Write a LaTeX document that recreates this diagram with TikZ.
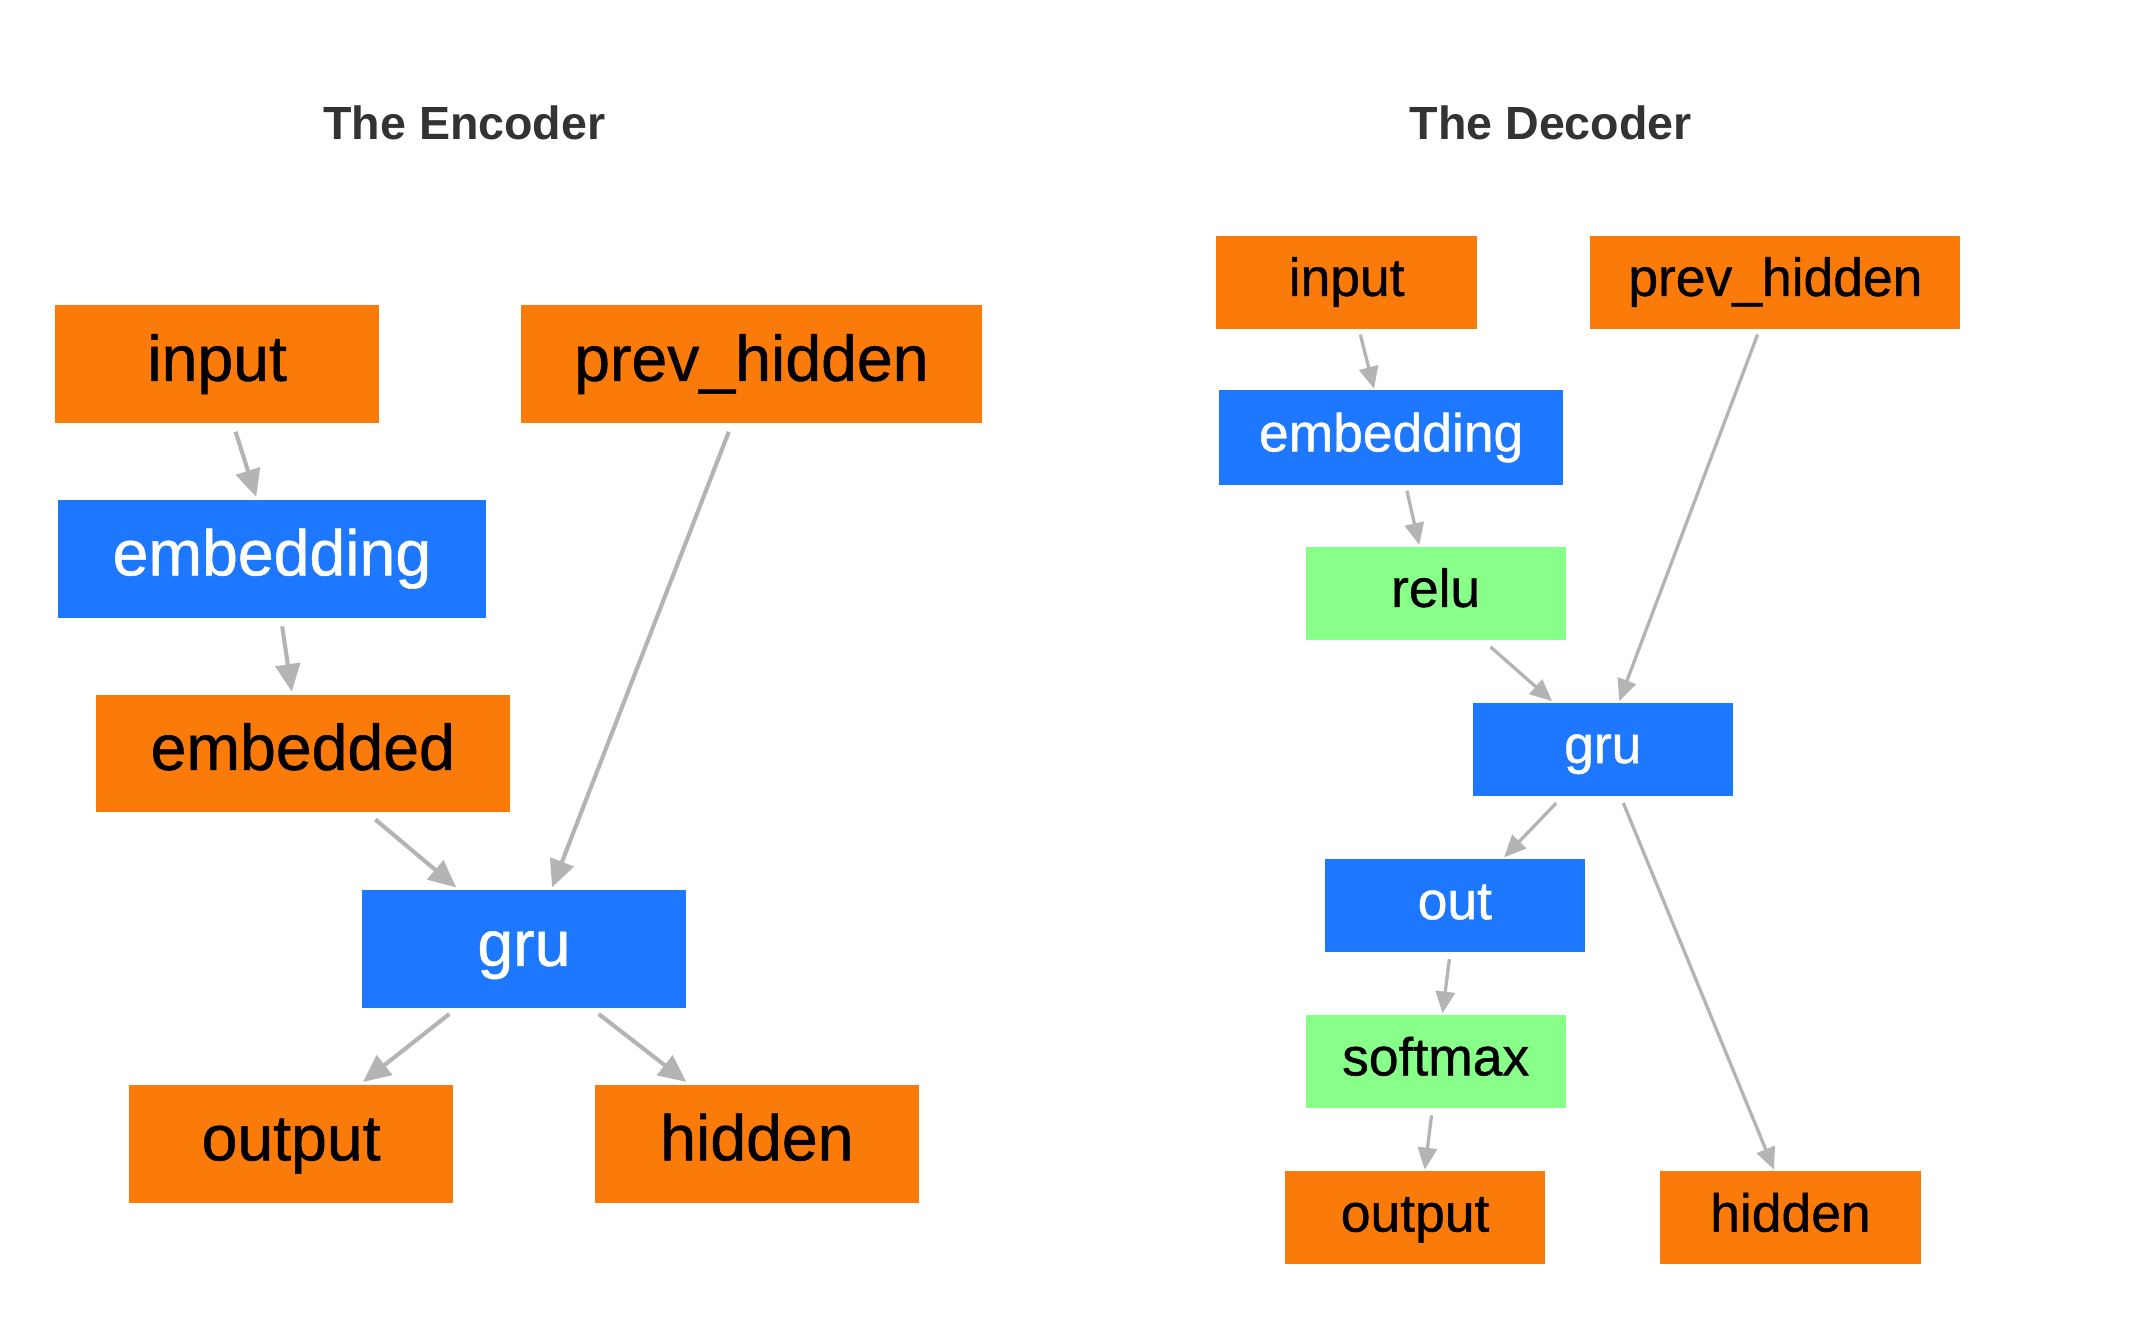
\documentclass[tikz,border=0pt]{standalone}
\usepackage{fontspec}
\setmainfont{Liberation Sans}
\newfontfamily\boxfont[FakeBold=0.8]{Liberation Sans}
\usetikzlibrary{arrows.meta}
\definecolor{orng}{HTML}{FA7A0A}
\definecolor{blu}{HTML}{1E78FF}
\definecolor{grn}{HTML}{88FF88}
\definecolor{edg}{HTML}{B4B4B4}
\definecolor{ttl}{HTML}{333333}
\tikzset{
  box/.style={rectangle, inner sep=0pt, anchor=center},
  ebox/.style={box, minimum height=86pt, text height=34pt, text depth=10pt, font=\boxfont\fontsize{47}{47}\selectfont},
  dbox/.style={box, minimum height=68pt, text height=28pt, text depth=8pt, font=\boxfont\fontsize{39}{39}\selectfont},
  orbox/.style={fill=orng, text=black},
  blbox/.style={fill=blu, text=white},
  gnbox/.style={fill=grn, text=black},
  eedge/.style={draw=edg, line width=3pt, -{Triangle[length=20pt,width=18pt]}},
  dedge/.style={draw=edg, line width=2.4pt, -{Triangle[length=16pt,width=14pt]}},
  title/.style={font=\fontsize{34}{34}\selectfont\bfseries, text=ttl, anchor=center}
}
\begin{document}
\begin{tikzpicture}[x=1pt,y=-1pt]
\useasboundingbox[fill=white] (0,0) rectangle (1568,981);
\node[title] (t1) at (339,90) {The Encoder};
\node[title] (t2) at (1132,90) {The Decoder};
% Encoder
\node[ebox,orbox,minimum width=237pt] (ein) at (158.5,266) {input};
\node[ebox,orbox,minimum width=337pt] (eprev) at (548.5,266) {prev\_hidden};
\node[ebox,blbox,minimum width=313pt] (eemb) at (198.5,408) {embedding};
\node[ebox,orbox,minimum width=302pt] (eembd) at (221,550) {embedded};
\node[ebox,blbox,minimum width=237pt] (egru) at (382.5,693) {gru};
\node[ebox,orbox,minimum width=237pt] (eout) at (212.5,835) {output};
\node[ebox,orbox,minimum width=237pt] (ehid) at (552.5,835) {hidden};
\draw[eedge] ([shift={(13.5,6)}]ein.south) -- ([shift={(-11.5,-2)}]eemb.north);
\draw[eedge] ([shift={(7.5,6)}]eemb.south) -- ([shift={(-8,-2)}]eembd.north);
\draw[eedge] ([shift={(53,5)}]eembd.south) -- ([shift={(-49.5,-2)}]egru.north);
\draw[eedge] ([shift={(-16.5,6)}]eprev.south) -- ([shift={(20.5,-2)}]egru.north);
\draw[eedge] ([shift={(-54.5,4)}]egru.south) -- ([shift={(52.5,-2)}]eout.north);
\draw[eedge] ([shift={(54.5,4)}]egru.south) -- ([shift={(-51.5,-2)}]ehid.north);
% Decoder
\node[dbox,orbox,minimum width=190pt] (din) at (983,206) {input};
\node[dbox,orbox,minimum width=270pt] (dprev) at (1296,206) {prev\_hidden};
\node[dbox,blbox,minimum width=251pt,minimum height=69pt] (demb) at (1015.5,319.5) {embedding};
\node[dbox,gnbox,minimum width=190pt] (drelu) at (1048,433) {relu};
\node[dbox,blbox,minimum width=190pt] (dgru) at (1170,547) {gru};
\node[dbox,blbox,minimum width=190pt] (dout) at (1062,661) {out};
\node[dbox,gnbox,minimum width=190pt] (dsoft) at (1048,775) {softmax};
\node[dbox,orbox,minimum width=190pt] (doutp) at (1033,889) {output};
\node[dbox,orbox,minimum width=190pt] (dhid) at (1307,889) {hidden};
\draw[dedge] ([shift={(10,4)}]din.south) -- ([shift={(-12.5,-1)}]demb.north);
\draw[dedge] ([shift={(11.5,4)}]demb.south) -- ([shift={(-12,-1)}]drelu.north);
\draw[dedge] ([shift={(40,5)}]drelu.south) -- ([shift={(-37,-1)}]dgru.north);
\draw[dedge] ([shift={(-13,4)}]dprev.south) -- ([shift={(12,-1)}]dgru.north);
\draw[dedge] ([shift={(-34,5)}]dgru.south) -- ([shift={(36,-1)}]dout.north);
\draw[dedge] ([shift={(15,5)}]dgru.south) -- ([shift={(-12,-1)}]dhid.north);
\draw[dedge] ([shift={(-4,5)}]dout.south) -- ([shift={(5,-1)}]dsoft.north);
\draw[dedge] ([shift={(-3,5)}]dsoft.south) -- ([shift={(7,-1)}]doutp.north);
\end{tikzpicture}
\end{document}
